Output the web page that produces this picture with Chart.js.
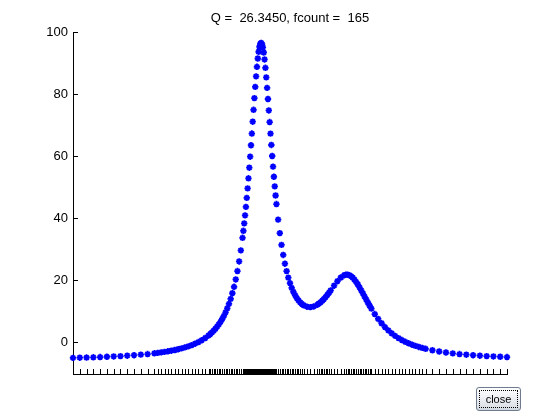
<!DOCTYPE html>
<html>
<head>
<meta charset="utf-8">
<script src="https://cdn.jsdelivr.net/npm/chart.js@4"></script>
<style>
  html, body { margin: 0; padding: 0; background: #ffffff; }
  #wrap { position: relative; width: 560px; height: 420px; overflow: hidden; background: #ffffff; }
  #c { position: absolute; left: 0; top: 0; }
  #title { position: absolute; left: 73px; width: 434px; top: 10px; text-align: center;
           font: 13px "Liberation Sans", Arial, Helvetica, sans-serif; line-height: 15px;
           white-space: pre; color: #000; }
  #closeBtn { position: absolute; left: 476px; top: 387px; width: 45px; height: 24px; padding: 0;
              font: 11px "Liberation Sans", Arial, sans-serif; color: #000;
              border: 1px solid #6f7b8c; border-radius: 3px;
              background: linear-gradient(#fefefe, #eef0f3 45%, #dde2e8 85%, #cfd5dd);
              outline: 1px dotted #000; outline-offset: -4px; }
</style>
</head>
<body>
<div id="wrap">
  <canvas id="c" width="560" height="420"></canvas>
  <div id="title"></div>
  <button id="closeBtn">close</button>
</div>
<script>
// ---- data ----
const titleText = "Q =  26.3450, fcount =  165";
const xs = [
 -1, -0.953125, -0.90625, -0.859375,
 -0.8125, -0.765625, -0.71875, -0.671875,
 -0.625, -0.578125, -0.53125, -0.484375,
 -0.4375, -0.41406, -0.39063, -0.36719,
 -0.34375, -0.32031, -0.29688, -0.27344,
 -0.25, -0.22656, -0.20313, -0.17969,
 -0.15625, -0.13281, -0.10938, -0.08594,
 -0.0625, -0.05078, -0.03906, -0.02734,
 -0.01563, -0.00391, 0.00781, 0.01953,
 0.03125, 0.04297, 0.05469, 0.06641,
 0.07813, 0.08984, 0.10156, 0.11328,
 0.125, 0.13672, 0.14844, 0.16016,
 0.17188, 0.17773, 0.18359, 0.18945,
 0.19531, 0.20117, 0.20703, 0.21289,
 0.21875, 0.22461, 0.23047, 0.23633,
 0.24219, 0.24805, 0.25391, 0.25977,
 0.26563, 0.27148, 0.27734, 0.2832,
 0.28906, 0.29492, 0.30078, 0.30664,
 0.3125, 0.31836, 0.32422, 0.33008,
 0.33594, 0.3418, 0.34766, 0.35352,
 0.35938, 0.36523, 0.37109, 0.37695,
 0.38281, 0.38867, 0.39453, 0.40039,
 0.40625, 0.41797, 0.42969, 0.44141,
 0.45313, 0.46484, 0.47656, 0.48828,
 0.5, 0.51172, 0.52344, 0.53516,
 0.54688, 0.55859, 0.57031, 0.58203,
 0.59375, 0.61719, 0.64063, 0.66406,
 0.6875, 0.69922, 0.71094, 0.72266,
 0.73438, 0.74609, 0.75781, 0.76953,
 0.78125, 0.80469, 0.82813, 0.85156,
 0.875, 0.88672, 0.89844, 0.91016,
 0.92188, 0.93359, 0.94531, 0.95703,
 0.96875, 0.98047, 0.99219, 1.00391,
 1.01563, 1.02734, 1.03906, 1.05078,
 1.0625, 1.08594, 1.10938, 1.13281,
 1.15625, 1.17969, 1.20313, 1.22656,
 1.25, 1.27344, 1.29688, 1.32031,
 1.34375, 1.36719, 1.39063, 1.41406,
 1.4375, 1.48438, 1.53125, 1.57813,
 1.625, 1.67188, 1.71875, 1.76563,
 1.8125, 1.85938, 1.90625, 1.95313, 2
];
const ys = [
 -5.138, -5.079, -5.015, -4.943,
 -4.862, -4.772, -4.670, -4.554,
 -4.422, -4.270, -4.095, -3.890,
 -3.648, -3.511, -3.360, -3.195,
 -3.014, -2.813, -2.591, -2.343,
 -2.066, -1.755, -1.404, -1.006,
 -0.551, -0.029, 0.575, 1.280,
 2.107, 2.575, 3.087, 3.647,
 4.261, 4.936, 5.681, 6.505,
 7.420, 8.438, 9.575, 10.849,
 12.281, 13.898, 15.728, 17.807,
 20.176, 22.883, 25.983, 29.536,
 33.610, 35.862, 38.270, 40.839,
 43.575, 46.482, 49.561, 52.810,
 56.219, 59.776, 63.458, 67.235,
 71.065, 74.896, 78.663, 82.290,
 85.693, 88.779, 91.456, 93.635,
 95.238, 96.205, 96.500, 96.112,
 95.058, 93.383, 91.151, 88.445,
 85.354, 81.973, 78.390, 74.690,
 70.945, 67.216, 63.554, 59.996,
 56.572, 53.300, 50.193, 47.258,
 44.496, 39.484, 35.116, 31.333,
 28.070, 25.261, 22.847, 20.775,
 19.000, 17.482, 16.188, 15.091,
 14.167, 13.396, 12.763, 12.255,
 11.860, 11.375, 11.257, 11.469,
 11.987, 12.355, 12.793, 13.297,
 13.863, 14.487, 15.160, 15.876,
 16.623, 18.151, 19.602, 20.797,
 21.551, 21.713, 21.715, 21.552,
 21.225, 20.745, 20.125, 19.384,
 18.545, 17.631, 16.664, 15.665,
 14.653, 13.644, 12.650, 11.683,
 10.750, 9.003, 7.431, 6.037,
 4.810, 3.734, 2.794, 1.971,
 1.250, 0.617, 0.059, -0.433,
 -0.870, -1.258, -1.604, -1.914,
 -2.193, -2.671, -3.064, -3.391,
 -3.666, -3.899, -4.098, -4.270,
 -4.419, -4.549, -4.664, -4.765, -4.855
];
const yTicks = [0, 20, 40, 60, 80, 100];
const xRange = [-1, 2];
const yRange = [-10.33, 100];

document.getElementById('title').textContent = titleText;

// inward tick marks drawn through the chart's own scales
const inwardTicks = {
  id: 'inwardTicks',
  afterDraw(chart) {
    const ctx = chart.ctx;
    const area = chart.chartArea;
    const sx = chart.scales.x, sy = chart.scales.y;
    ctx.save();
    ctx.strokeStyle = '#000';
    ctx.lineWidth = 1;
    ctx.beginPath();
    sx.ticks.forEach(t => {
      const px = Math.round(sx.getPixelForValue(t.value)) + 0.5;
      ctx.moveTo(px, area.bottom);
      ctx.lineTo(px, area.bottom - 5);
    });
    sy.ticks.forEach(t => {
      const py = Math.round(sy.getPixelForValue(t.value)) + 0.5;
      ctx.moveTo(area.left, py);
      ctx.lineTo(area.left + 5, py);
    });
    ctx.stroke();
    ctx.restore();
  }
};

new Chart(document.getElementById('c'), {
  type: 'scatter',
  data: {
    datasets: [{
      data: xs.map((x, i) => ({ x: x, y: ys[i] })),
      showLine: false,
      pointStyle: 'star',
      pointRadius: 3.2,
      pointHoverRadius: 3.2,
      pointBorderWidth: 1.8,
      borderColor: '#0000ff',
      backgroundColor: '#0000ff',
      clip: false
    }]
  },
  options: {
    responsive: false,
    animation: false,
    devicePixelRatio: 1,
    events: [],
    layout: { padding: { top: 32, right: 53, bottom: 0, left: 0 } },
    plugins: { legend: { display: false }, title: { display: false }, tooltip: { enabled: false } },
    scales: {
      x: {
        type: 'linear', min: xRange[0], max: xRange[1],
        afterBuildTicks: s => { s.ticks = xs.map(v => ({ value: v })); },
        ticks: { display: false },
        grid: { drawOnChartArea: false, drawTicks: false },
        border: { display: true, color: '#000', width: 1 },
        afterFit: s => { s.height = 46; }
      },
      y: {
        type: 'linear', min: yRange[0], max: yRange[1],
        afterBuildTicks: s => { s.ticks = yTicks.map(v => ({ value: v })); },
        ticks: { color: '#000', padding: 5, font: { family: '"Liberation Sans", Arial, sans-serif', size: 13 } },
        grid: { drawOnChartArea: false, drawTicks: false },
        border: { display: true, color: '#000', width: 1 },
        afterFit: s => { s.width = 73; }
      }
    }
  },
  plugins: [inwardTicks]
});
</script>
</body>
</html>
